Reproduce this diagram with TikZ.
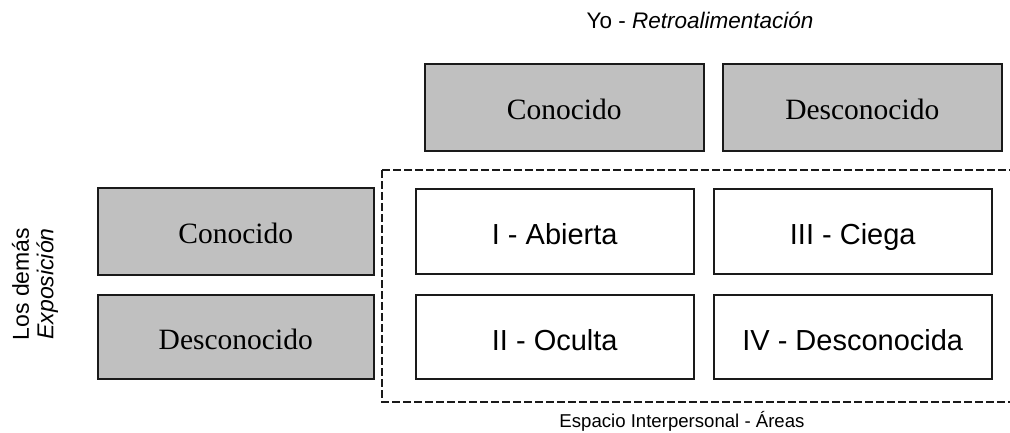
\documentclass[tikz,border=0pt]{standalone}
\usepackage{fontspec}
\setmainfont{Liberation Serif}
\setsansfont{Liberation Sans}
\definecolor{boxgray}{HTML}{C0C0C0}
\definecolor{edge}{HTML}{1A1A1A}
\tikzset{
  graybox/.style={draw=edge, line width=1.5pt, fill=boxgray, anchor=north west, inner sep=0pt,
    text height=25pt, text depth=0pt, font=\rmfamily\fontsize{29.5}{31}\selectfont},
  whitebox/.style={draw=edge, line width=1.5pt, fill=white, anchor=north west, inner sep=0pt,
    text height=27pt, text depth=0pt, font=\sffamily\fontsize{29}{31}\selectfont},
  frame/.style={draw=edge, line width=1.2pt, dash pattern=on 8pt off 3pt},
  caption/.style={font=\sffamily, inner sep=0pt}
}
\begin{document}
\begin{tikzpicture}[x=1pt,y=-1pt]
\clip (0,0) rectangle (1010,432);
\fill[white] (0,0) rectangle (1010,432);

% title
\node[caption, anchor=base, font=\sffamily\fontsize{22.5}{24}\selectfont] (yo) at (700,28) {Yo - \textit{Retroalimentación}};

% top header boxes
\node[graybox, minimum width=279pt, minimum height=87pt] (tc) at (424,63) {Conocido};
\node[graybox, minimum width=279pt, minimum height=87pt] (td) at (722,63) {Desconocido};

% dashed frame (interpersonal space)
\draw[frame] (382,170) -- (1030,170);
\draw[frame] (382,170) -- (382,402) -- (1030,402);

% left header boxes
\node[graybox, minimum width=276pt, minimum height=87pt] (lc) at (97,187) {Conocido};
\node[graybox, minimum width=276pt, minimum height=84pt] (ld) at (97,294) {Desconocido};

% quadrants
\node[whitebox, minimum width=278pt, minimum height=85pt] (q1) at (415,188) {I - Abierta};
\node[whitebox, minimum width=278pt, minimum height=85pt] (q3) at (713,188) {III - Ciega};
\node[whitebox, minimum width=278pt, minimum height=84pt] (q2) at (415,294) {II - Oculta};
\node[whitebox, minimum width=278pt, minimum height=84pt] (q4) at (713,294) {IV - Desconocida};

% side label
\node[caption, rotate=90, align=center, font=\sffamily\fontsize{23}{24.5}\selectfont] (side) at (35,284) {Los demás\\\textit{Exposición}};

% bottom label
\node[caption, anchor=base, font=\sffamily\fontsize{18.6}{20}\selectfont] (esp) at (682,427) {Espacio Interpersonal - Áreas};
\end{tikzpicture}
\end{document}
